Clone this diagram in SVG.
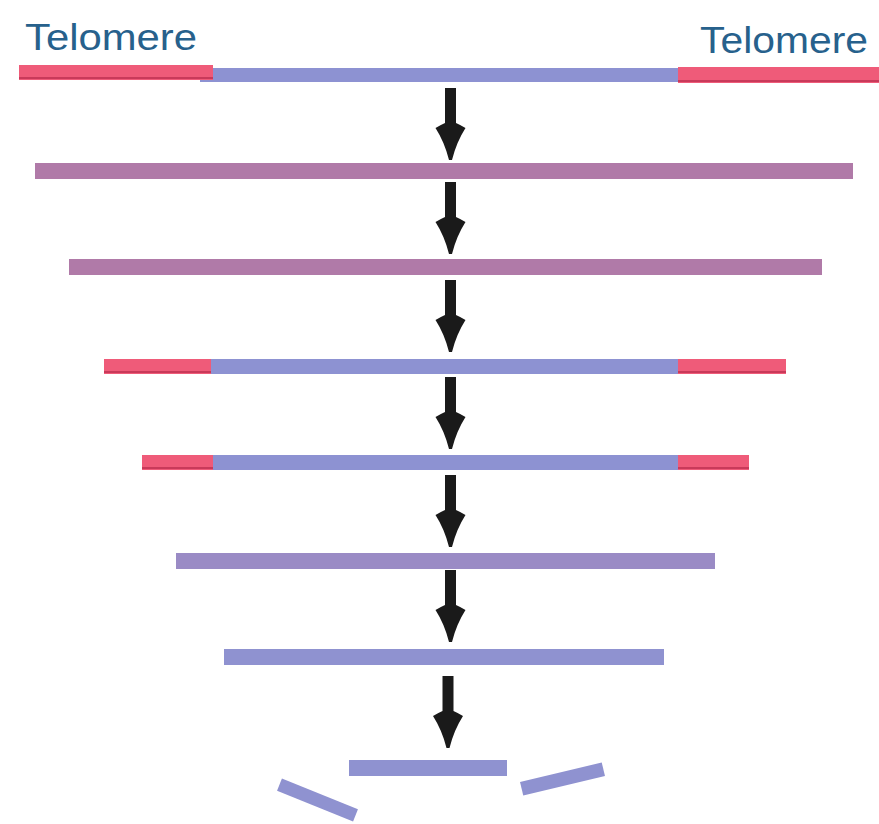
<svg xmlns="http://www.w3.org/2000/svg" width="879" height="824" viewBox="0 0 879 824">
<style>
.lbl{font-family:"Liberation Sans",Arial,sans-serif;font-size:37px;fill:#27618c}
.red{fill:#ef5b79}
.redl{stroke:#c93a5a;stroke-width:2}
.blue{fill:#8d92d2}
.mag{fill:#b07aa8}
.pur{fill:#9a8bc5}
.pur2{fill:#8f92d0}
.arrow{fill:#1a1a1a}
</style>
<defs>
<path id="arr" d="M -5.5,0 H 5.5 V 35 Q 10,37 15,40 Q 6,54 1.5,72 H -1.5 Q -6,54 -15,40 Q -10,37 -5.5,35 Z"/>
</defs>
<g id="labels">
<text class="lbl" x="25" y="50" textLength="172" lengthAdjust="spacingAndGlyphs">Telomere</text>
<text class="lbl" x="700" y="53" textLength="168" lengthAdjust="spacingAndGlyphs">Telomere</text>
</g>
<g id="row1">
<rect class="blue" x="200" y="68" width="480" height="14"/>
<rect class="red" x="19" y="65" width="194" height="15"/>
<line class="redl" x1="19" y1="78" x2="213" y2="78"/>
<rect class="red" x="678" y="67" width="201" height="16"/>
<line class="redl" x1="678" y1="81" x2="879" y2="81"/>
</g>
<g id="row2"><rect class="mag" x="35" y="163" width="818" height="16"/></g>
<g id="row3"><rect class="mag" x="69" y="259" width="753" height="16"/></g>
<g id="row4">
<rect class="blue" x="211" y="359" width="467" height="15"/>
<rect class="red" x="104" y="359" width="107" height="15"/>
<line class="redl" x1="104" y1="372" x2="211" y2="372"/>
<rect class="red" x="678" y="359" width="108" height="15"/>
<line class="redl" x1="678" y1="372" x2="786" y2="372"/>
</g>
<g id="row5">
<rect class="blue" x="213" y="455" width="465" height="15"/>
<rect class="red" x="142" y="455" width="71" height="15"/>
<line class="redl" x1="142" y1="468" x2="213" y2="468"/>
<rect class="red" x="678" y="455" width="71" height="15"/>
<line class="redl" x1="678" y1="468" x2="749" y2="468"/>
</g>
<g id="row6"><rect class="pur" x="176" y="553" width="539" height="16"/></g>
<g id="row7"><rect class="pur2" x="224" y="649" width="440" height="16"/></g>
<g id="row8">
<rect class="pur2" x="349" y="760" width="158" height="16"/>
<rect class="pur2" x="-41" y="-6.5" width="82" height="13" transform="translate(317.5 800) rotate(22)"/>
<rect class="pur2" x="-42" y="-7" width="84" height="14" transform="translate(562.5 779) rotate(-13.4)"/>
</g>
<g id="connectors" class="arrow">
<use href="#arr" x="450.5" y="88"/>
<use href="#arr" x="450.5" y="182"/>
<use href="#arr" x="450.5" y="280"/>
<use href="#arr" x="450.5" y="377"/>
<use href="#arr" x="450.5" y="475"/>
<use href="#arr" x="450.5" y="570"/>
<use href="#arr" x="448" y="676"/>
</g>
</svg>
